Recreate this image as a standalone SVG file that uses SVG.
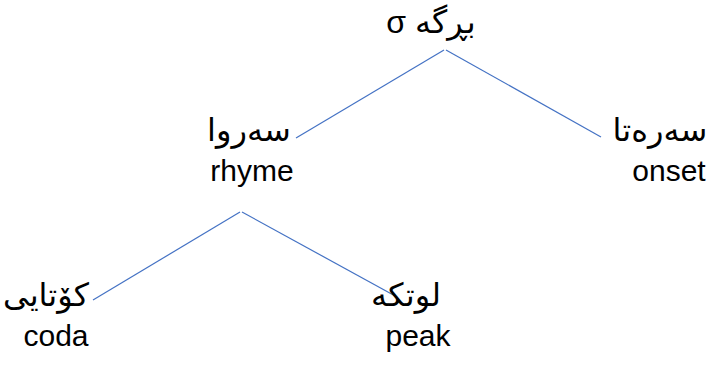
<svg xmlns="http://www.w3.org/2000/svg" width="723" height="370" viewBox="0 0 723 370">
<style>
.t{font-family:"Liberation Sans","DejaVu Sans",Arial,sans-serif;font-size:30px;fill:#000;text-anchor:middle}
.a{font-size:32px}
.c line{stroke:#4472C4;stroke-width:1.2}
</style>
<rect width="723" height="370" fill="#fff"/>
<g class="c" id="connectors">
<line x1="444" y1="50" x2="296" y2="138"/>
<line x1="446" y1="50" x2="601" y2="137"/>
<line x1="240" y1="212" x2="93" y2="300"/>
<line x1="242" y1="212" x2="397" y2="297"/>
</g>
<g id="syllable"><text class="t a" x="431" y="33">σ بڕگە</text></g>
<g id="rhyme"><text class="t a" x="249" y="141">سەروا</text><text class="t" x="252" y="181">rhyme</text></g>
<g id="onset"><text class="t a" x="660" y="141">سەرەتا</text><text class="t" x="669" y="181">onset</text></g>
<g id="coda"><text class="t a" x="46" y="306">کۆتایی</text><text class="t" x="56" y="346">coda</text></g>
<g id="peak"><text class="t a" x="406" y="306">لوتکە</text><text class="t" x="418" y="346">peak</text></g>
</svg>
